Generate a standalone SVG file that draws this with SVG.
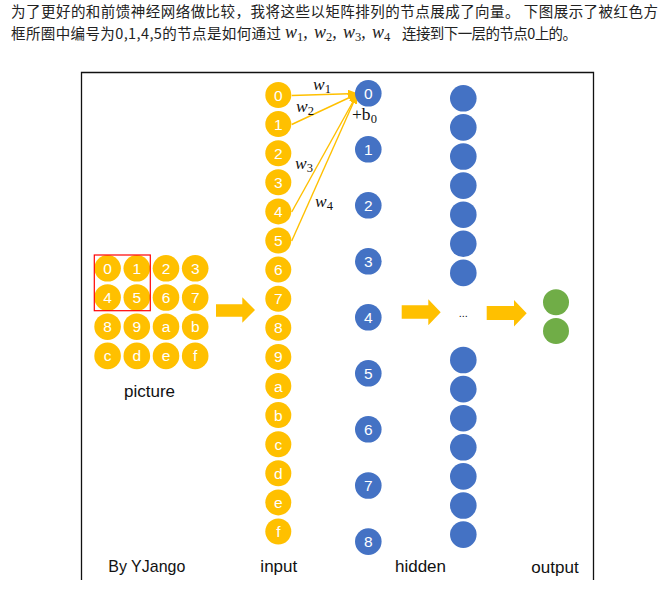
<svg xmlns="http://www.w3.org/2000/svg" width="670" height="606" viewBox="0 0 670 606">
<style>
.cn{font-family:"Noto Sans CJK SC","Noto Sans",sans-serif;font-size:14.5px;fill:#222}
.mi{font-family:"Liberation Serif","DejaVu Serif",serif;font-style:italic;font-size:18px;fill:#222}
.sub{font-family:"Liberation Serif","DejaVu Serif",serif;font-style:normal;font-size:12.5px;fill:#222}
.g{fill:#FFC000}
.b{fill:#4472C4}
.gr{fill:#70AD47}
.t{font-family:"Liberation Sans",Arial,sans-serif;font-size:15.5px;fill:#fff;text-anchor:middle}
.lb{font-family:"Liberation Sans",Arial,sans-serif;font-size:17px;fill:#111}
.wl{stroke:#FFC000;stroke-width:1.4;fill:none;marker-end:url(#ah)}
.wt{font-family:"Liberation Serif","DejaVu Serif",serif;font-style:italic;font-size:17.5px;fill:#111}
.ws{font-family:"Liberation Serif","DejaVu Serif",serif;font-style:normal;font-size:12.5px;fill:#111}
.frame{stroke:#111;stroke-width:1.3;fill:none}
</style>
<defs>
<marker id="ah" markerWidth="10" markerHeight="8" refX="9" refY="4" orient="auto" markerUnits="userSpaceOnUse">
<path d="M0,0 L10,4 L0,8 Z" fill="#FFC000"/>
</marker>
</defs>
<rect width="670" height="606" fill="#fff"/>
<g id="caption">
<text class="cn" x="11" y="17" textLength="647" lengthAdjust="spacing">为了更好的和前馈神经网络做比较，我将这些以矩阵排列的节点展成了向量。 下图展示了被红色方</text>
<text class="cn" x="11" y="39" textLength="270" lengthAdjust="spacing">框所圈中编号为0,1,4,5的节点是如何通过</text>
<text class="mi" x="285" y="37.5">w<tspan class="sub" dy="3">1</tspan><tspan dy="-3">, </tspan><tspan x="314">w</tspan><tspan class="sub" dy="3">2</tspan><tspan dy="-3">, </tspan><tspan x="343">w</tspan><tspan class="sub" dy="3">3</tspan><tspan dy="-3">, </tspan><tspan x="372">w</tspan><tspan class="sub" dy="3">4</tspan></text>
<text class="cn" x="402" y="39" textLength="175" lengthAdjust="spacing">连接到下一层的节点0上的。</text>
</g>
<g id="frame">
<path class="frame" d="M81.5,580 V72.5 H593.5 V580"/>
</g>
<g id="connectors">
<line class="wl" x1="291.7" y1="95.5" x2="357" y2="93.5"/>
<line class="wl" x1="291.7" y1="124.5" x2="357" y2="94"/>
<line class="wl" x1="291.7" y1="212" x2="357" y2="94.5"/>
<line class="wl" x1="291.7" y1="241" x2="357" y2="94.5"/>
<polygon class="g" points="216,304.3 242.3,304.3 242.3,297.3 255,310 242.3,322.7 242.3,316.7 216,316.7"/>
<polygon class="g" points="401.7,305.3 428.3,305.3 428.3,299.3 440.7,312.3 428.3,325.3 428.3,318.7 401.7,318.7"/>
<polygon class="g" points="486.7,306 514,306 514,300 526.7,313.3 514,326.5 514,320 486.7,320"/>
</g>
<g id="weights">
<text class="wt" x="313" y="90">w<tspan class="ws" dy="3">1</tspan></text>
<text class="wt" x="296" y="111.5">w<tspan class="ws" dy="3">2</tspan></text>
<text class="wt" x="295" y="169">w<tspan class="ws" dy="3">3</tspan></text>
<text class="wt" x="315" y="206.5">w<tspan class="ws" dy="3">4</tspan></text>
<text class="wt" x="352" y="120" style="font-style:normal">+b<tspan class="ws" dy="3">0</tspan></text>
</g>
<g id="picture">
<g id="p0"><circle class="g" cx="107.6" cy="268.3" r="13.3"/><text class="t" x="107.6" y="273.8">0</text></g>
<g id="p1"><circle class="g" cx="136.8" cy="268.3" r="13.3"/><text class="t" x="136.8" y="273.8">1</text></g>
<g id="p2"><circle class="g" cx="166" cy="268.3" r="13.3"/><text class="t" x="166" y="273.8">2</text></g>
<g id="p3"><circle class="g" cx="195.2" cy="268.3" r="13.3"/><text class="t" x="195.2" y="273.8">3</text></g>
<g id="p4"><circle class="g" cx="107.6" cy="297.5" r="13.3"/><text class="t" x="107.6" y="303">4</text></g>
<g id="p5"><circle class="g" cx="136.8" cy="297.5" r="13.3"/><text class="t" x="136.8" y="303">5</text></g>
<g id="p6"><circle class="g" cx="166" cy="297.5" r="13.3"/><text class="t" x="166" y="303">6</text></g>
<g id="p7"><circle class="g" cx="195.2" cy="297.5" r="13.3"/><text class="t" x="195.2" y="303">7</text></g>
<g id="p8"><circle class="g" cx="107.6" cy="326.7" r="13.3"/><text class="t" x="107.6" y="332.2">8</text></g>
<g id="p9"><circle class="g" cx="136.8" cy="326.7" r="13.3"/><text class="t" x="136.8" y="332.2">9</text></g>
<g id="pa"><circle class="g" cx="166" cy="326.7" r="13.3"/><text class="t" x="166" y="332.2">a</text></g>
<g id="pb"><circle class="g" cx="195.2" cy="326.7" r="13.3"/><text class="t" x="195.2" y="332.2">b</text></g>
<g id="pc"><circle class="g" cx="107.6" cy="355.9" r="13.3"/><text class="t" x="107.6" y="361.4">c</text></g>
<g id="pd"><circle class="g" cx="136.8" cy="355.9" r="13.3"/><text class="t" x="136.8" y="361.4">d</text></g>
<g id="pe"><circle class="g" cx="166" cy="355.9" r="13.3"/><text class="t" x="166" y="361.4">e</text></g>
<g id="pf"><circle class="g" cx="195.2" cy="355.9" r="13.3"/><text class="t" x="195.2" y="361.4">f</text></g>
<rect id="redbox" x="94.3" y="255" width="56" height="55.7" fill="none" stroke="#FF0000" stroke-width="1.2"/>
</g>
<g id="input">
<g id="i0"><circle class="g" cx="278.3" cy="95" r="13"/><text class="t" x="278.3" y="100.5">0</text></g>
<g id="i1"><circle class="g" cx="278.3" cy="124.1" r="13"/><text class="t" x="278.3" y="129.6">1</text></g>
<g id="i2"><circle class="g" cx="278.3" cy="153.2" r="13"/><text class="t" x="278.3" y="158.7">2</text></g>
<g id="i3"><circle class="g" cx="278.3" cy="182.3" r="13"/><text class="t" x="278.3" y="187.8">3</text></g>
<g id="i4"><circle class="g" cx="278.3" cy="211.4" r="13"/><text class="t" x="278.3" y="216.9">4</text></g>
<g id="i5"><circle class="g" cx="278.3" cy="240.5" r="13"/><text class="t" x="278.3" y="246">5</text></g>
<g id="i6"><circle class="g" cx="278.3" cy="269.6" r="13"/><text class="t" x="278.3" y="275.1">6</text></g>
<g id="i7"><circle class="g" cx="278.3" cy="298.7" r="13"/><text class="t" x="278.3" y="304.2">7</text></g>
<g id="i8"><circle class="g" cx="278.3" cy="327.8" r="13"/><text class="t" x="278.3" y="333.3">8</text></g>
<g id="i9"><circle class="g" cx="278.3" cy="356.9" r="13"/><text class="t" x="278.3" y="362.4">9</text></g>
<g id="ia"><circle class="g" cx="278.3" cy="386" r="13"/><text class="t" x="278.3" y="391.5">a</text></g>
<g id="ib"><circle class="g" cx="278.3" cy="415.1" r="13"/><text class="t" x="278.3" y="420.6">b</text></g>
<g id="ic"><circle class="g" cx="278.3" cy="444.2" r="13"/><text class="t" x="278.3" y="449.7">c</text></g>
<g id="id"><circle class="g" cx="278.3" cy="473.3" r="13"/><text class="t" x="278.3" y="478.8">d</text></g>
<g id="ie"><circle class="g" cx="278.3" cy="502.4" r="13"/><text class="t" x="278.3" y="507.9">e</text></g>
<g id="if"><circle class="g" cx="278.3" cy="531.5" r="13"/><text class="t" x="278.3" y="537">f</text></g>
</g>
<g id="hidden1">
<g id="h0"><circle class="b" cx="368.3" cy="93.3" r="13.3"/><text class="t" x="368.3" y="98.8">0</text></g>
<g id="h1"><circle class="b" cx="368.3" cy="149.3" r="13.3"/><text class="t" x="368.3" y="154.8">1</text></g>
<g id="h2"><circle class="b" cx="368.3" cy="205.3" r="13.3"/><text class="t" x="368.3" y="210.8">2</text></g>
<g id="h3"><circle class="b" cx="368.3" cy="261.3" r="13.3"/><text class="t" x="368.3" y="266.8">3</text></g>
<g id="h4"><circle class="b" cx="368.3" cy="317.3" r="13.3"/><text class="t" x="368.3" y="322.8">4</text></g>
<g id="h5"><circle class="b" cx="368.3" cy="373.3" r="13.3"/><text class="t" x="368.3" y="378.8">5</text></g>
<g id="h6"><circle class="b" cx="368.3" cy="429.3" r="13.3"/><text class="t" x="368.3" y="434.8">6</text></g>
<g id="h7"><circle class="b" cx="368.3" cy="485.5" r="13.3"/><text class="t" x="368.3" y="491">7</text></g>
<g id="h8"><circle class="b" cx="368.3" cy="541.6" r="13.3"/><text class="t" x="368.3" y="547.1">8</text></g>
</g>
<g id="hidden2">
<g id="k0"><circle class="b" cx="463.3" cy="98.3" r="13.3"/></g>
<g id="k1"><circle class="b" cx="463.3" cy="127.4" r="13.3"/></g>
<g id="k2"><circle class="b" cx="463.3" cy="156.5" r="13.3"/></g>
<g id="k3"><circle class="b" cx="463.3" cy="185.6" r="13.3"/></g>
<g id="k4"><circle class="b" cx="463.3" cy="214.7" r="13.3"/></g>
<g id="k5"><circle class="b" cx="463.3" cy="243.8" r="13.3"/></g>
<g id="k6"><circle class="b" cx="463.3" cy="272.9" r="13.3"/></g>
<g id="kdots"><text x="463.3" y="317" font-family="Liberation Sans,Arial,sans-serif" font-size="11" fill="#111" text-anchor="middle">...</text></g>
<g id="k7"><circle class="b" cx="463.3" cy="360" r="13.3"/></g>
<g id="k8"><circle class="b" cx="463.3" cy="389.1" r="13.3"/></g>
<g id="k9"><circle class="b" cx="463.3" cy="418.2" r="13.3"/></g>
<g id="k10"><circle class="b" cx="463.3" cy="447.3" r="13.3"/></g>
<g id="k11"><circle class="b" cx="463.3" cy="476.4" r="13.3"/></g>
<g id="k12"><circle class="b" cx="463.3" cy="505.5" r="13.3"/></g>
<g id="k13"><circle class="b" cx="463.3" cy="534.6" r="13.3"/></g>
</g>
<g id="output">
<g id="o0"><circle class="gr" cx="556" cy="302.3" r="13"/></g>
<g id="o1"><circle class="gr" cx="556" cy="331" r="13"/></g>
</g>
<g id="labels">
<text class="lb" x="149.5" y="396.5" text-anchor="middle">picture</text>
<text class="lb" x="108.3" y="571.7" textLength="77" lengthAdjust="spacingAndGlyphs">By YJango</text>
<text class="lb" x="278.8" y="571.7" text-anchor="middle">input</text>
<text class="lb" x="420.5" y="571.7" text-anchor="middle">hidden</text>
<text class="lb" x="555" y="573" text-anchor="middle">output</text>
</g>
</svg>
